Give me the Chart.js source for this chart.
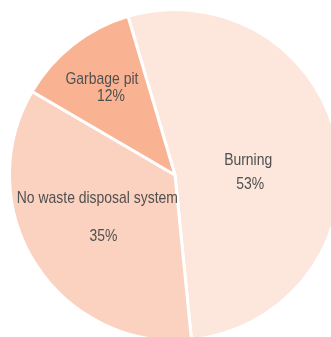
<!DOCTYPE html>
<html>
<head>
<meta charset="utf-8">
<script src="https://cdn.jsdelivr.net/npm/chart.js@4/dist/chart.umd.min.js"></script>
<style>
  html, body { margin: 0; padding: 0; background: #ffffff; overflow: hidden; }
  body { width: 331px; height: 337px; position: relative; }
  #wrap { position: absolute; left: 8px; top: 8px; width: 334px; height: 334px; }
</style>
</head>
<body>
<div id="wrap"><canvas id="pie"></canvas></div>
<script>
// Household waste disposal, share of households (%)
const categories = ['Burning', 'No waste disposal system', 'Garbage pit'];
const shares = [53, 35, 12];
const sliceColors = ['#fde6dc', '#fbd2bf', '#f9b393'];

// Label placement relative to each slice's centre point: [name line, percent line]
const labelOffsets = [
  [[-8, 5.5], [-6, 29.5]],
  [[-8, -17], [-2, 21.5]],
  [[-22, -26], [-13, -8.5]]
];

// Narrow face emulated by squeezing a regular sans horizontally
const TEXT_SQUEEZE = 0.82;

const sliceLabels = {
  id: 'sliceLabels',
  afterDatasetsDraw(chart) {
    const ctx = chart.ctx;
    const meta = chart.getDatasetMeta(0);
    const data = chart.data.datasets[0].data;
    const total = data.reduce((a, b) => a + b, 0);
    const put = (text, x, y) => {
      ctx.save();
      ctx.translate(x, y);
      ctx.scale(TEXT_SQUEEZE, 1);
      ctx.fillText(text, 0, 0);
      ctx.restore();
    };
    ctx.save();
    ctx.fillStyle = '#505050';
    ctx.font = '17px "Liberation Sans", Arial, sans-serif';
    ctx.textAlign = 'center';
    ctx.textBaseline = 'alphabetic';
    meta.data.forEach((arc, i) => {
      const c = arc.getCenterPoint();
      const pct = Math.round(data[i] / total * 100) + '%';
      const off = labelOffsets[i];
      put(chart.data.labels[i], c.x + off[0][0], c.y + off[0][1]);
      put(pct, c.x + off[1][0], c.y + off[1][1]);
    });
    ctx.restore();
  }
};

new Chart(document.getElementById('pie'), {
  type: 'pie',
  data: {
    labels: categories,
    datasets: [{
      data: shares,
      backgroundColor: sliceColors,
      borderColor: '#ffffff',
      borderWidth: 3
    }]
  },
  options: {
    responsive: true,
    maintainAspectRatio: false,
    animation: false,
    rotation: -16.5,
    layout: { padding: 0 },
    plugins: {
      legend: { display: false },
      tooltip: { enabled: false }
    }
  },
  plugins: [sliceLabels]
});
</script>
</body>
</html>
